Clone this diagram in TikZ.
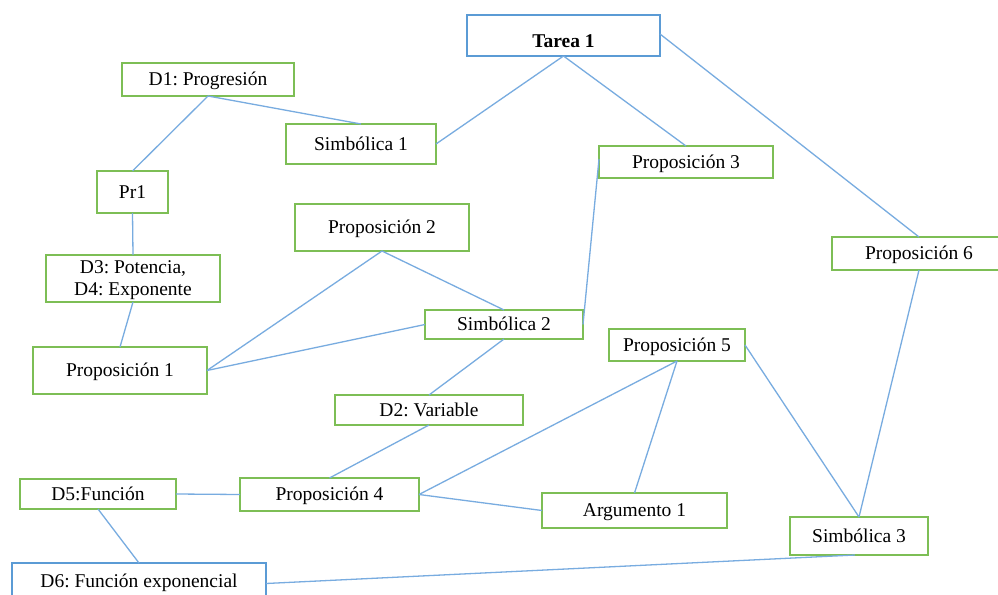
\documentclass[tikz,border=0pt]{standalone}
\usepackage{fontspec}
\setmainfont{Liberation Serif}
\frenchspacing
\definecolor{gbox}{RGB}{125,190,85}
\definecolor{bbox}{RGB}{91,155,213}
\definecolor{lnk}{RGB}{120,172,224}
\tikzset{
  gnode/.style={draw=gbox, line width=1.6pt, fill=white, inner sep=0pt, outer sep=0pt,
    font=\fontsize{19.5}{23}\selectfont\frenchspacing, align=center, text height=14pt, text depth=2pt},
  bnode/.style={gnode, draw=bbox},
  conn/.style={draw=lnk, line width=1.3pt}
}
\begin{document}
\begin{tikzpicture}[x=1pt,y=-1pt]
\useasboundingbox (0,0) rectangle (998,594);
\clip (0,0) rectangle (998,594);
\fill[white] (0,0) rectangle (998,594);
\node[bnode, minimum width=193pt, minimum height=41pt, text height=24pt, text depth=0pt] (tarea) at (563.5,35.5) {\textbf{Tarea 1}};
\node[gnode, minimum width=172pt, minimum height=33pt] (d1) at (208,79.5) {D1: Progresión};
\node[gnode, minimum width=150pt, minimum height=40pt] (sim1) at (361,144) {Simbólica 1};
\node[gnode, minimum width=174pt, minimum height=32pt] (prop3) at (686,162) {Proposición 3};
\node[gnode, minimum width=71pt, minimum height=42pt] (pr1) at (132.5,192) {Pr1};
\node[gnode, minimum width=174pt, minimum height=47pt] (prop2) at (382,227.5) {Proposición 2};
\node[gnode, minimum width=174pt, minimum height=33pt] (prop6) at (919,253.5) {Proposición 6};
\node[gnode, minimum width=174pt, minimum height=47pt, text height=, text depth=] (d3) at (133,278.5) {\raisebox{0pt}[17pt][0pt]{}D3: Potencia,\\[-1pt]D4: Exponente};
\node[gnode, minimum width=158pt, minimum height=29pt] (sim2) at (504,324.5) {Simbólica 2};
\node[gnode, minimum width=174pt, minimum height=47pt] (prop1) at (120,370.5) {Proposición 1};
\node[gnode, minimum width=136pt, minimum height=32pt] (prop5) at (677,345) {Proposición 5};
\node[gnode, minimum width=188pt, minimum height=30pt] (d2) at (429,410) {D2: Variable};
\node[gnode, minimum width=156pt, minimum height=30pt] (d5) at (98,494) {D5:Función};
\node[gnode, minimum width=179pt, minimum height=33pt] (prop4) at (329.5,494.5) {Proposición 4};
\node[gnode, minimum width=185pt, minimum height=35pt] (arg1) at (634.5,510.5) {Argumento 1};
\node[gnode, minimum width=138pt, minimum height=38pt] (sim3) at (859,536) {Simbólica 3};
\node[bnode, minimum width=254pt, minimum height=37pt] (d6) at (139,581.5) {D6: Función exponencial};
% connectors
\draw[conn] (tarea.south) -- (sim1.east);
\draw[conn] (tarea.south) -- (prop3.north);
\coordinate (te) at ([yshift=1.5pt]tarea.east);
\draw[conn] (te) -- (prop6.north);
\draw[conn] (d1.south) -- (pr1.north);
\draw[conn] (d1.south) -- (sim1.north);
\draw[conn] (pr1.south) -- (d3.north);
\draw[conn] (d3.south) -- (prop1.north);
\draw[conn] (prop2.south) -- (prop1.east);
\draw[conn] (prop2.south) -- (sim2.north);
\draw[conn] (sim2.west) -- (prop1.east);
\draw[conn] (sim2.east) -- ([yshift=3pt]prop3.west);
\draw[conn] (sim2.south) -- (d2.north);
\draw[conn] (d2.south) -- (prop4.north);
\draw[conn] (d5.east) -- (prop4.west);
\draw[conn] (d5.south) -- (d6.north);
\draw[conn] (prop4.east) -- (prop5.south);
\draw[conn] (prop4.east) -- (arg1.west);
\draw[conn] (prop5.south) -- (arg1.north);
\draw[conn] (prop5.east) -- (sim3.north);
\draw[conn] (prop6.south) -- (sim3.north);
\draw[conn] ([xshift=-4pt]sim3.south) -- ([yshift=-2pt]d6.east);
\end{tikzpicture}
\end{document}
